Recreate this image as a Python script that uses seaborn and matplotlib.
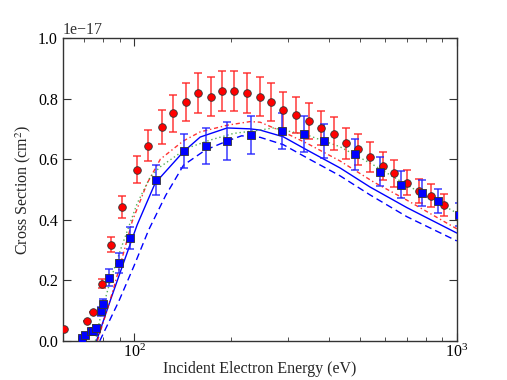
import numpy as np
import pandas as pd
import matplotlib
matplotlib.use("Agg")
import matplotlib.pyplot as plt
import seaborn as sns

# ---- data (cross sections in units of 1e-17 cm^2) ----
red_E = [60.5, 71.2, 74.5, 79.4, 84.7, 91.6, 101.7, 110.0, 121.5, 131.4, 144.5, 157.8,
         172.3, 186.9, 204.0, 223.3, 244.7, 266.1, 290.0, 318.1, 348.3, 379.4, 415.3,
         452.3, 493.1, 539.0, 588.8, 639.6, 700.3, 764.4, 830.9, 913.2]
red_sigma = [0.040, 0.066, 0.096, 0.189, 0.318, 0.442, 0.565, 0.645, 0.707, 0.751, 0.788, 0.817,
             0.806, 0.825, 0.825, 0.817, 0.806, 0.788, 0.762, 0.746, 0.726, 0.702, 0.684,
             0.652, 0.633, 0.608, 0.578, 0.553, 0.522, 0.496, 0.479, 0.448]
red_err = [0.0, 0.0, 0.0, 0.015, 0.025, 0.035, 0.045, 0.050, 0.056, 0.060, 0.062, 0.066,
           0.065, 0.067, 0.067, 0.066, 0.065, 0.063, 0.061, 0.060, 0.058, 0.056, 0.055,
           0.052, 0.051, 0.049, 0.046, 0.044, 0.042, 0.040, 0.038, 0.036]

blue_E = [69.0, 70.4, 73.1, 74.5, 76.1, 78.6, 80.0, 83.3, 89.4, 97.2, 116.7, 142.1, 166.3,
          194.1, 230.7, 287.9, 336.1, 386.8, 483.3, 578.9, 670.8, 777.7, 875.2, 1014.0]
blue_sigma = [0.009, 0.019, 0.032, 0.034, 0.044, 0.097, 0.122, 0.209, 0.256, 0.339, 0.530,
              0.626, 0.644, 0.660, 0.680, 0.693, 0.683, 0.660, 0.616, 0.559, 0.516, 0.489,
              0.462, 0.417]
blue_err = [0.004, 0.006, 0.008, 0.008, 0.009, 0.015, 0.016, 0.027, 0.033, 0.037, 0.050,
            0.056, 0.060, 0.062, 0.062, 0.060, 0.058, 0.056, 0.052, 0.048, 0.045, 0.043,
            0.040, 0.037]

solid_E = [76.3, 84.3, 92.5, 102.0, 116.0, 141.8, 160.0, 194.0, 228.5, 245.5, 289.3, 343.3,
           434.3, 538.0, 700.0, 1000.0]
solid_sigma = [0.0, 0.135, 0.257, 0.383, 0.521, 0.624, 0.673, 0.703, 0.700, 0.696, 0.674,
               0.630, 0.571, 0.508, 0.440, 0.356]

dashed_E = [78.1, 89.4, 99.5, 110.7, 125.0, 142.0, 166.0, 194.0, 215.0, 245.5, 289.3, 343.3,
            434.3, 538.0, 700.0, 1000.0]
dashed_sigma = [0.0, 0.130, 0.245, 0.366, 0.480, 0.580, 0.630, 0.660, 0.677, 0.672, 0.648,
                0.604, 0.545, 0.482, 0.410, 0.330]

green_E = [75.7, 78.5, 84.3, 90.5, 102.0, 112.1, 120.4, 145.6, 171.8, 203.0, 245.5, 269.0,
           342.5, 434.0, 551.0, 699.0, 1000.0]
green_sigma = [0.0, 0.080, 0.201, 0.300, 0.454, 0.542, 0.575, 0.636, 0.663, 0.685, 0.696,
               0.703, 0.680, 0.641, 0.581, 0.515, 0.422]

reddash_E = [76.8, 82.3, 85.3, 91.6, 98.4, 109.5, 120.4, 141.8, 160.0, 194.0, 228.5, 245.5,
             289.3, 343.3, 434.3, 551.0, 699.0, 1000.0]
reddash_sigma = [0.0, 0.102, 0.157, 0.273, 0.394, 0.520, 0.600, 0.660, 0.690, 0.712, 0.724,
                 0.722, 0.690, 0.652, 0.594, 0.525, 0.465, 0.370]

scale = 1e-17

sns.set_theme(style="ticks")
plt.rcParams["font.family"] = ["Liberation Serif", "DejaVu Serif"]
plt.rcParams["mathtext.fontset"] = "stix"
plt.rcParams["xtick.direction"] = "in"
plt.rcParams["ytick.direction"] = "in"
plt.rcParams["xtick.top"] = True
plt.rcParams["ytick.right"] = True

fig = plt.figure(figsize=(5.07, 3.80), dpi=100)
ax = fig.add_axes([0.124, 0.103, 0.777, 0.797])

def frame(E, s):
    return pd.DataFrame({"E": E, "sigma": np.array(s) * scale})

sns.lineplot(data=frame(solid_E, solid_sigma), x="E", y="sigma", ax=ax, color="#0000ff",
             linewidth=1.0, linestyle="-", sort=False)
sns.lineplot(data=frame(dashed_E, dashed_sigma), x="E", y="sigma", ax=ax, color="#0000ff",
             linewidth=1.0, linestyle=(0, (5, 3)), sort=False)
sns.lineplot(data=frame(reddash_E, reddash_sigma), x="E", y="sigma", ax=ax, color="#ff0000",
             linewidth=1.0, linestyle=(0, (3, 2, 1, 2)), sort=False, alpha=0.8)
sns.lineplot(data=frame(green_E, green_sigma), x="E", y="sigma", ax=ax, color="#2ca02c",
             linewidth=1.0, linestyle=(0, (1, 2)), sort=False, alpha=0.8)

ax.errorbar(red_E, np.array(red_sigma) * scale, yerr=np.array(red_err) * scale, fmt="none",
            ecolor="#ff2020", elinewidth=1.3, capsize=3, capthick=1.3, alpha=0.75)
ax.errorbar(blue_E, np.array(blue_sigma) * scale, yerr=np.array(blue_err) * scale, fmt="none",
            ecolor="#2020ff", elinewidth=1.3, capsize=3, capthick=1.3, alpha=0.75)

sns.scatterplot(data=frame(red_E, red_sigma), x="E", y="sigma", ax=ax, marker="o",
                color="#ff0000", edgecolor="#333333", linewidth=0.6, s=30, zorder=5)
sns.scatterplot(data=frame(blue_E, blue_sigma), x="E", y="sigma", ax=ax, marker="s",
                color="#0000ff", edgecolor="#333333", linewidth=0.6, s=28, zorder=5)

ax.set_xscale("log")
ax.set_xlim(60, 1000)
ax.set_ylim(0, 1.0e-17)
ax.set_yticks(np.arange(0, 1.01, 0.2) * scale)
ax.set_xlabel("Incident Electron Energy (eV)", fontsize=11.5, labelpad=0)
ax.set_ylabel("Cross Section (cm$^2$)", fontsize=11.5, labelpad=4)
ax.tick_params(axis="both", which="major", labelsize=11.5, length=6, width=0.8, colors="#333333",
               labelcolor="black")
ax.tick_params(axis="x", which="major", pad=2)
ax.tick_params(axis="both", which="minor", length=3, width=0.6, colors="#333333")
ax.yaxis.get_offset_text().set_fontsize(11.5)
for sp in ax.spines.values():
    sp.set_color("#333333")
    sp.set_linewidth(1.0)

fig.savefig("out.png", dpi=100)
